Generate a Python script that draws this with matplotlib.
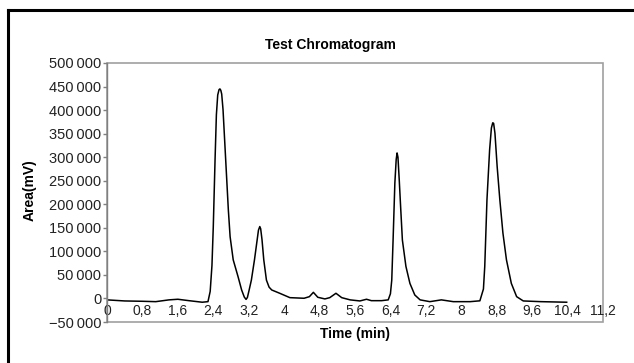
import numpy as np
import matplotlib
matplotlib.use("Agg")
import matplotlib.pyplot as plt
from matplotlib.lines import Line2D
from matplotlib.patches import Rectangle

plt.rcParams['font.family'] = ['Liberation Sans', 'DejaVu Sans']

# retention time (min) and detector response
time_min = [0, 0.4, 0.8, 1.1, 1.4, 1.6, 1.85, 2.15, 2.28, 2.33, 2.37, 2.40, 2.44,
            2.47, 2.50, 2.53, 2.55, 2.57, 2.59, 2.62, 2.66, 2.70, 2.74, 2.78,
            2.85, 2.96, 3.04, 3.10, 3.14, 3.17, 3.21, 3.26, 3.33, 3.39, 3.42,
            3.45, 3.47, 3.50, 3.54, 3.60, 3.66, 3.72, 3.90, 4.13, 4.45, 4.57,
            4.66, 4.76, 4.92, 5.03, 5.17, 5.30, 5.49, 5.71, 5.86, 5.97, 6.20,
            6.35, 6.40, 6.43, 6.46, 6.50, 6.53, 6.55, 6.57, 6.60, 6.63, 6.67,
            6.75, 6.84, 6.95, 7.07, 7.29, 7.55, 7.82, 8.20, 8.42, 8.50, 8.53,
            8.58, 8.64, 8.68, 8.71, 8.73, 8.76, 8.81, 8.87, 8.94, 9.02, 9.13,
            9.25, 9.40, 9.80, 10.38]
area_mv = [-3000, -5300, -6000, -6800, -3000, -1700, -4700, -8000, -6800, 15000,
           70000, 152700, 294700, 390000, 432000, 443500, 445000, 442000,
           434000, 401000, 330000, 259000, 188000, 131000, 82000, 46000, 18000,
           3000, -2000, 2000, 18000, 39000, 82000, 124000, 145000, 152700,
           148000, 125000, 82000, 39000, 24000, 18000, 11000, 1700, 400, 3800,
           13000, 2500, -1000, 1700, 11000, 1700, -3000, -5300, -1700, -4700,
           -4700, -3000, 10000, 39000, 124000, 245000, 295000, 309000, 300000,
           250000, 195000, 124000, 68000, 32000, 7400, -3000, -6800, -3000,
           -6800, -6800, -5000, 20000, 68000, 210000, 316000, 362000, 373000,
           372000, 351000, 280000, 210000, 139000, 82000, 32000, 3800, -5300,
           -6800, -8000]

x_ticks = [0, 0.8, 1.6, 2.4, 3.2, 4, 4.8, 5.6, 6.4, 7.2, 8, 8.8, 9.6, 10.4, 11.2]
x_labels = ['0', '0,8', '1,6', '2,4', '3,2', '4', '4,8', '5,6', '6,4', '7,2',
            '8', '8,8', '9,6', '10,4', '11,2']
y_ticks = [-50000, 0, 50000, 100000, 150000, 200000, 250000, 300000, 350000,
           400000, 450000, 500000]
y_labels = ['\u221250\u2009000', '0', '50\u2009000', '100\u2009000', '150\u2009000',
            '200\u2009000', '250\u2009000', '300\u2009000', '350\u2009000',
            '400\u2009000', '450\u2009000', '500\u2009000']

fig = plt.figure(figsize=(6.34, 3.63), dpi=100)
ax = fig.add_axes([107/634, 1-322/363, 496/634, 259/363])

ax.plot(time_min, area_mv, color='black', lw=1.1, solid_joinstyle='round')

ax.set_xlim(0, 11.2)
ax.set_ylim(-50000, 500000)

# plot area border (gray box)
for s in ['top', 'right']:
    ax.spines[s].set_visible(False)
ax.add_patch(Rectangle((0, 0), 1, 1, transform=ax.transAxes, fill=False,
                       edgecolor='#a0a0a0', lw=1.2, clip_on=False, zorder=0))
ax.spines['left'].set_color('#808080')
ax.spines['left'].set_linewidth(1.0)

# category axis crosses at zero, like Excel
ax.spines['bottom'].set_position(('data', 0))
ax.spines['bottom'].set_visible(False)
ax.set_xticks(x_ticks)
ax.set_xticklabels(x_labels)
ax.tick_params(axis='x', length=0, pad=4, labelsize=10, labelcolor='#222222')

ax.set_yticks(y_ticks)
ax.set_yticklabels(y_labels)
ax.tick_params(axis='y', direction='out', length=3, width=1, color='#808080',
               pad=1, labelsize=10.5, labelcolor='#222222')

fig.text(330/634, 1-45/363, 'Test Chromatogram', ha='center', va='center',
         fontsize=10, fontweight='bold')
fig.text(355/634, 1-334/363, 'Time (min)', ha='center', va='center',
         fontsize=10, fontweight='bold')
fig.text(30/634, 1-190/363, 'Area(mV)', ha='center', va='center',
         fontsize=10, fontweight='bold', rotation=90)

# outer chart frame
fig.add_artist(Line2D([8/634, 8/634], [0, 1-10/363], color='black', lw=2.2,
                      transform=fig.transFigure))
fig.add_artist(Line2D([8/634, 1], [1-10/363, 1-10/363], color='black', lw=2.2,
                      transform=fig.transFigure))

fig.savefig('out.png', dpi=100)
